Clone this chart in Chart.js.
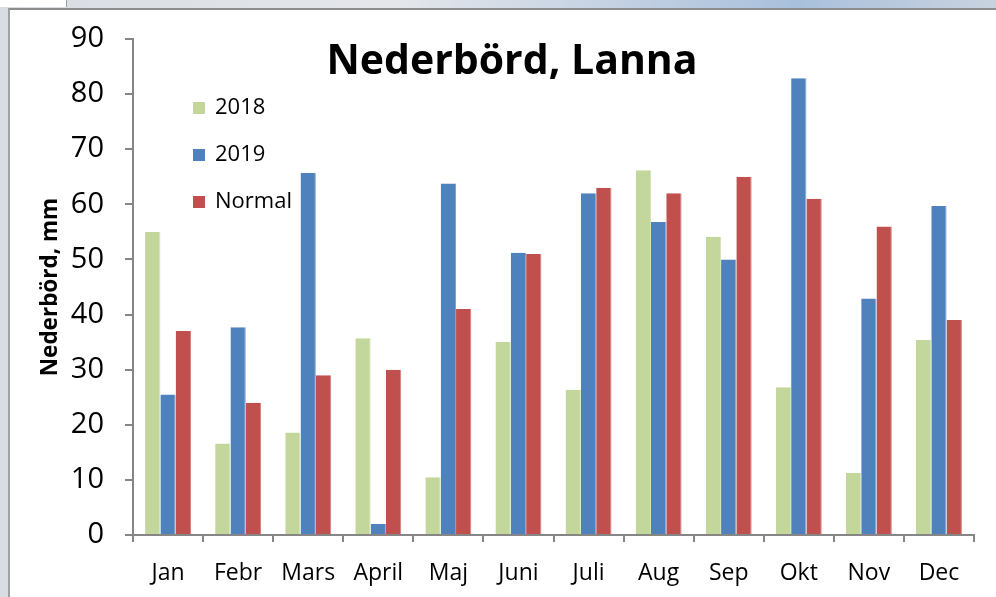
<!DOCTYPE html>
<html>
<head>
<meta charset="utf-8">
<script src="https://cdn.jsdelivr.net/npm/chart.js@4.4.0/dist/chart.umd.min.js"></script>
<style>
    html, body { margin: 0; padding: 0; }
    body {
        width: 996px; height: 597px; overflow: hidden; position: relative;
        background: linear-gradient(90deg, #d8dde3 0%, #e4e6ea 40%, #a9c0dc 80%, #c9d3df 100%);
    }
    #corner { position: absolute; left: 0; top: 0; width: 66px; height: 7px; background: #fff; border-right: 1px solid #9a9a9a; }
    #frame {
        position: absolute; left: 8px; top: 8px; width: 988px; height: 589px;
        background: #fff; border-top: 2px solid #8c8c8c; border-left: 2px solid #a0a0a0;
        box-sizing: border-box;
    }
    #wrap { position: absolute; left: 0; top: 0; width: 986px; height: 587px; }
</style>
</head>
<body>
<div id="corner"></div>
<div id="frame">
    <div id="wrap"><canvas id="rainChart"></canvas></div>
</div>
<script>
const months = ['Jan', 'Febr', 'Mars', 'April', 'Maj', 'Juni', 'Juli', 'Aug', 'Sep', 'Okt', 'Nov', 'Dec'];
const rain2018 = [55, 16.6, 18.6, 35.7, 10.5, 35, 26.3, 66.2, 54.1, 26.8, 11.3, 35.4];
const rain2019 = [25.5, 37.7, 65.7, 2, 63.8, 51.2, 62, 56.8, 50, 82.9, 42.9, 59.7];
const rainNormal = [37, 24, 29, 30, 41, 51, 63, 62, 65, 61, 56, 39];
const yTicks = [0, 10, 20, 30, 40, 50, 60, 70, 80, 90];

const axisGrey = '#868686';
const fontFamily = '"Open Sans", "Liberation Sans", sans-serif';

// title drawn inside the plot area, like the original
const titlePlugin = {
    id: 'innerTitle',
    afterDraw: function (chart) {
        const ctx = chart.ctx;
        ctx.save();
        ctx.font = 'bold 41px ' + fontFamily;
        ctx.fillStyle = '#000';
        ctx.textAlign = 'center';
        ctx.textBaseline = 'middle';
        ctx.fillText('Nederbörd, Lanna', 502, 52);
        ctx.restore();
    }
};

// legend stacked vertically in the upper left of the plot
const legendPlugin = {
    id: 'innerLegend',
    afterDraw: function (chart) {
        const ctx = chart.ctx;
        ctx.save();
        ctx.font = '22px ' + fontFamily;
        ctx.textBaseline = 'middle';
        chart.data.datasets.forEach(function (ds, i) {
            const y = 98 + i * 47;
            ctx.fillStyle = ds.backgroundColor;
            ctx.fillRect(183, y - 6, 12, 12);
            ctx.fillStyle = '#000';
            ctx.fillText(ds.label, 205, y);
        });
        ctx.restore();
    }
};

const ctx = document.getElementById('rainChart').getContext('2d');
const rainChart = new Chart(ctx, {
    type: 'bar',
    data: {
        labels: months,
        datasets: [
            { label: '2018', data: rain2018, backgroundColor: '#c3d69b', borderColor: '#d3e2b4', borderWidth: { right: 1 } },
            { label: '2019', data: rain2019, backgroundColor: '#4f81bd', borderColor: '#7fa3cf', borderWidth: { right: 1 } },
            { label: 'Normal', data: rainNormal, backgroundColor: '#c0504d', borderColor: '#d47f7d', borderWidth: { right: 1 } }
        ]
    },
    options: {
        responsive: true,
        maintainAspectRatio: false,
        animation: false,
        events: [],
        layout: { padding: { top: 29, right: 22, left: 0, bottom: 0 } },
        datasets: { bar: { categoryPercentage: 0.655, barPercentage: 1 } },
        plugins: {
            legend: { display: false },
            title: { display: false },
            tooltip: { enabled: false }
        },
        scales: {
            x: {
                offset: true,
                afterFit: function (scale) { scale.height = 62; },
                border: { display: true, color: axisGrey, width: 2 },
                grid: { offset: true, drawOnChartArea: false, drawTicks: true, tickLength: 7, color: axisGrey, lineWidth: 2 },
                ticks: { color: '#000', padding: 18, maxRotation: 0, font: { family: fontFamily, size: 23 } }
            },
            y: {
                min: 0,
                max: 90,
                afterFit: function (scale) {
                    scale.width = 123;
                    scale.paddingTop = 0;
                    scale.paddingBottom = 0;
                },
                afterBuildTicks: function (scale) { scale.ticks = yTicks.map(function (v) { return { value: v }; }); },
                border: { display: true, color: axisGrey, width: 2 },
                grid: { drawOnChartArea: false, drawTicks: true, tickLength: 8, color: axisGrey, lineWidth: 2 },
                ticks: { color: '#000', padding: 21, font: { family: fontFamily, size: 29 } },
                title: {
                    display: true,
                    text: 'Nederbörd, mm',
                    color: '#000',
                    padding: { top: 27, bottom: 0 },
                    font: { family: fontFamily, size: 22.5, weight: 'bold' }
                }
            }
        }
    },
    plugins: [titlePlugin, legendPlugin]
});
</script>
</body>
</html>
